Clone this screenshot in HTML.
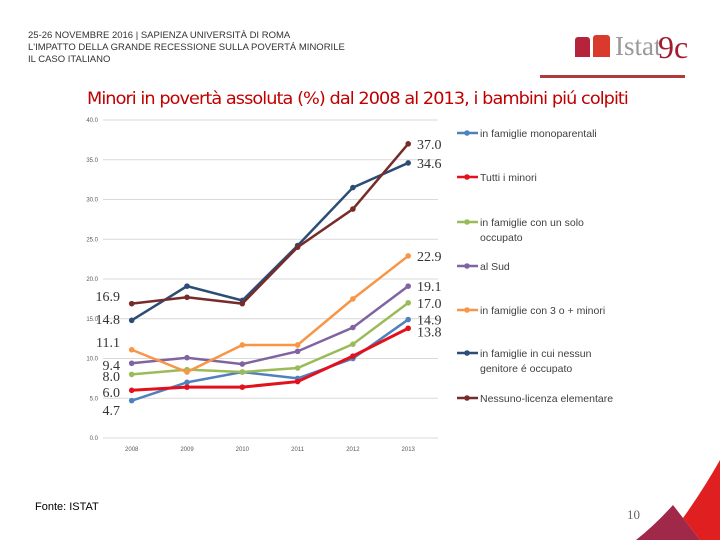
<!DOCTYPE html>
<html><head><meta charset="utf-8"><style>
body{margin:0;width:720px;height:540px;overflow:hidden;background:#fff;font-family:"Liberation Sans",sans-serif;position:relative}
.hdr{position:absolute;left:28px;font-size:9.5px;color:#333;line-height:12px}
</style></head><body>
<div class="hdr" style="top:30px">25-26 NOVEMBRE 2016 | SAPIENZA UNIVERSITÀ DI ROMA<br>L'IMPATTO DELLA GRANDE RECESSIONE SULLA POVERTÁ MINORILE<br>IL CASO ITALIANO</div>
<div style="position:absolute;left:575px;top:35px;width:140px;height:30px">
<div style="position:absolute;left:0;top:2px;width:15px;height:20px;background:#b5243a;border-radius:3px 3px 0 0"></div>
<div style="position:absolute;left:18px;top:0;width:17px;height:22px;background:#d93a2b;border-radius:3px 3px 0 0"></div>
<div style="position:absolute;left:40px;top:-4px;font-family:'Liberation Serif',serif;font-size:27px;color:#999">Istat</div>
<div style="position:absolute;left:83px;top:-6px;font-family:'Liberation Serif',serif;font-size:32px;color:#a01c30">9c</div>
</div>
<div style="position:absolute;left:540px;top:75px;width:145px;height:3px;background:#b03a3a"></div>
<div style="position:absolute;left:87px;top:89px;font-size:17px;color:#c00000;font-family:'DejaVu Sans',sans-serif;letter-spacing:-0.9px;transform:scaleX(1.04);transform-origin:left top;white-space:nowrap">Minori in povertà assoluta (%) dal 2008 al 2013, i bambini piú colpiti</div>
<svg id="c" width="720" height="540" style="position:absolute;left:0;top:0"></svg>
<div style="position:absolute;left:35px;top:501px;font-size:11px;color:#000">Fonte: ISTAT</div>
<div style="position:absolute;left:627px;top:507px;font-size:13px;color:#666;font-family:'Liberation Serif',serif">10</div>
<svg width="720" height="540" style="position:absolute;left:0;top:0"><path d="M683,518 Q703,490 720,460 L720,540 L700,540 Z" fill="#e02020"/><path d="M636,540 Q655,525 673,505 L700,540 Z" fill="#a02848"/></svg>
<script>
const years=['2008','2009','2010','2011','2012','2013'];
const yTicks=[0,5,10,15,20,25,30,35,40];
const names=['in famiglie monoparentali','Tutti i minori','in famiglie con un solo occupato','al Sud','in famiglie con 3 o + minori','in famiglie in cui nessun genitore é occupato','Nessuno-licenza elementare'];
const colors=['#4f81bd','#e3101e','#9bbb59','#8064a2','#f79646','#2c4d75','#772c2a'];
const s1=[4.7,7.0,8.3,7.5,10.0,14.9];
const s2=[6.0,6.4,6.4,7.1,10.3,13.8];
const s3=[8.0,8.6,8.3,8.8,11.8,17.0];
const s4=[9.4,10.1,9.3,10.9,13.9,19.1];
const s5=[11.1,8.3,11.7,11.7,17.5,22.9];
const s6=[14.8,19.1,17.3,24.2,31.5,34.6];
const s7=[16.9,17.7,16.9,24.0,28.8,37.0];
const series=[s1,s2,s3,s4,s5,s6,s7];
const legendY=[133,177,222,266,310,353,398];
const svg=document.getElementById('c');const NS='http://www.w3.org/2000/svg';
const X=i=>131.7+i*55.3, Y=v=>438-v*7.95;
function mk(t,a,p){const e=document.createElementNS(NS,t);for(const k in a)e.setAttribute(k,a[k]);(p||svg).appendChild(e);return e;}
yTicks.forEach(v=>{
 const l=mk('line',{x1:103,x2:438,y1:Y(v),y2:Y(v),stroke:'#d9d9d9','stroke-width':1});
 
 
 const t=mk('text',{x:98,y:Y(v)+2,'font-size':6,'text-anchor':'end',fill:'#595959'});t.textContent=v.toFixed(1);
 
 
});
years.forEach((y,i)=>{const t=mk('text',{x:X(i),y:451,'font-size':6,'text-anchor':'middle',fill:'#595959'});t.textContent=y;
 
 });
series.forEach((s,k)=>{
 const g=mk('g',{});
 
 
 mk('polyline',{points:s.map((v,i)=>X(i)+','+Y(v)).join(' '),fill:'none',stroke:colors[k],'stroke-width':k==1?3:2.5},g);
 s.forEach((v,i)=>{const c=mk('circle',{cx:X(i),cy:Y(v),r:2.8,fill:colors[k]},g);
  
  });
 const last=s[s.length-1];
 const t=mk('text',{x:417,y:Y(last)+(k==1?8:5),'font-size':14,fill:'#333','font-family':'Liberation Serif, serif'});t.textContent=last.toFixed(1);
 
 
 const f=s[0];const ly={0:415,1:397,2:381,3:370,4:347,5:324,6:301}[k];
 const st=mk('text',{x:120,y:ly,'font-size':14,fill:'#333','text-anchor':'end','font-family':'Liberation Serif, serif'});st.textContent=f.toFixed(1);
 
 
 const lg=mk('g',{});
 
 
 mk('line',{x1:457,x2:478,y1:legendY[k],y2:legendY[k],stroke:colors[k],'stroke-width':2.5},lg);
 mk('circle',{cx:467,cy:legendY[k],r:2.8,fill:colors[k]},lg);
 const lines=names[k]=='in famiglie con un solo occupato'?['in famiglie con un solo','occupato']:names[k]=='in famiglie in cui nessun genitore é occupato'?['in famiglie in cui nessun','genitore é occupato']:[names[k]];
 lines.forEach((ln,j)=>{const tt=mk('text',{x:480,y:legendY[k]+4+j*15,'font-size':10.5,fill:'#404040'},lg);tt.textContent=ln;});
});
</script>
</body></html>
